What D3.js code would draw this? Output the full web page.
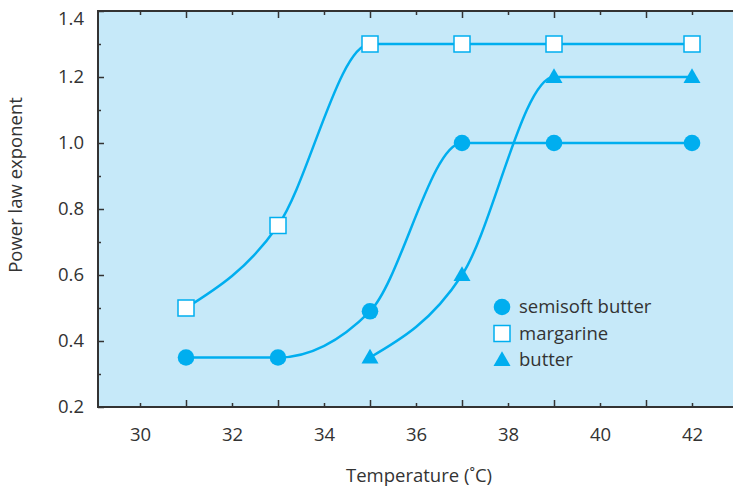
<!DOCTYPE html>
<html>
<head>
<meta charset="utf-8">
<script src="https://cdn.jsdelivr.net/npm/d3@7"></script>
<style>
  html, body { margin: 0; padding: 0; background: #ffffff; }
  svg { display: block; }
  text { font-family: "Open Sans", "Lato", sans-serif; fill: #333333; }
</style>
</head>
<body>
<svg id="chart" width="733" height="487"></svg>
<script>
// ---- Data ----
const temperatures = [31, 33, 35, 37, 39, 42];
const semisoftButter = [0.35, 0.35, 0.49, 1.0, 1.0, 1.0];
const margarine = [0.5, 0.75, 1.3, 1.3, 1.3, 1.3];
const butterTemps = [35, 37, 39, 42];
const butter = [0.35, 0.6, 1.2, 1.2];

const xLabelTicks = [30, 32, 34, 36, 38, 40, 42];
const xOddTicks = [31, 33, 35, 37, 39, 41];
const yLabelTicks = [0.2, 0.4, 0.6, 0.8, 1.0, 1.2, 1.4];
const yMinorTicks = [0.3, 0.5, 0.7, 0.9, 1.1, 1.3];

const legendLabels = ["semisoft butter", "margarine", "butter"];

// ---- Layout ----
const plot = { left: 98, right: 733, top: 11, bottom: 407 };
const lineColor = "#00AEEF";
const bgColor = "#C6E9F9";
const axisColor = "#333333";
const fontFamily = "'Open Sans', Lato, sans-serif";
const fontSize = 18.5;

const svg = d3.select("#chart");

// x: 30 -> 140px, 42 -> 692px
const pxPerUnit = (692 - 140) / 12;
const xDomainMin = 30 - (140 - plot.left) / pxPerUnit;
const xDomainMax = 30 + (plot.right - 140) / pxPerUnit;
const x = d3.scaleLinear().domain([xDomainMin, xDomainMax]).range([plot.left, plot.right]);
const y = d3.scaleLinear().domain([0.2, 1.4]).range([plot.bottom, plot.top]);

// background
svg.append("rect")
  .attr("x", plot.left).attr("y", plot.top)
  .attr("width", plot.right - plot.left).attr("height", plot.bottom - plot.top)
  .attr("fill", bgColor);

function styleAxis(g, showText) {
  g.select(".domain").remove();
  g.selectAll(".tick line").attr("stroke", axisColor).attr("stroke-width", 1.5);
  g.selectAll(".tick text").attr("font-size", fontSize).attr("fill", "#333")
    .style("font-family", fontFamily);
  if (!showText) g.selectAll(".tick text").remove();
}

// bottom axis
const bottomMajor = svg.append("g").attr("transform", `translate(0,${plot.bottom})`)
  .call(d3.axisBottom(x).tickValues(xLabelTicks).tickSize(-4).tickPadding(21).tickFormat(d3.format("d")));
styleAxis(bottomMajor, true);
const bottomOdd = svg.append("g").attr("transform", `translate(0,${plot.bottom})`)
  .call(d3.axisBottom(x).tickValues(xOddTicks).tickSize(-7));
styleAxis(bottomOdd, false);

// top axis
const topMajor = svg.append("g").attr("transform", `translate(0,${plot.top})`)
  .call(d3.axisTop(x).tickValues(xLabelTicks).tickSize(-4));
styleAxis(topMajor, false);
const topOdd = svg.append("g").attr("transform", `translate(0,${plot.top})`)
  .call(d3.axisTop(x).tickValues(xOddTicks).tickSize(-7));
styleAxis(topOdd, false);

// left axis
const leftMajor = svg.append("g").attr("transform", `translate(${plot.left},0)`)
  .call(d3.axisLeft(y).tickValues(yLabelTicks).tickSize(-6).tickPadding(14).tickFormat(d3.format(".1f")));
styleAxis(leftMajor, true);
// top label sits a little lower so it stays inside the picture
leftMajor.selectAll(".tick text").filter(d => d === 1.4).attr("dy", "0.75em");
const leftMinor = svg.append("g").attr("transform", `translate(${plot.left},0)`)
  .call(d3.axisLeft(y).tickValues(yMinorTicks).tickSize(-3));
styleAxis(leftMinor, false);

// frame lines
svg.append("path")
  .attr("d", `M${plot.right},${plot.top}H${plot.left}V${plot.bottom}H${plot.right}`)
  .attr("fill", "none").attr("stroke", axisColor).attr("stroke-width", 2);

// lines
const line = d3.line().x(d => x(d[0])).y(d => y(d[1])).curve(d3.curveMonotoneX);
const semiData = temperatures.map((t, i) => [t, semisoftButter[i]]);
const margData = temperatures.map((t, i) => [t, margarine[i]]);
const butData = butterTemps.map((t, i) => [t, butter[i]]);

[semiData, margData, butData].forEach(data => {
  svg.append("path").attr("d", line(data))
    .attr("fill", "none").attr("stroke", lineColor).attr("stroke-width", 2.5);
});

// markers
const squareSize = 16;
const triSym = d3.symbol().type(d3.symbolTriangle).size(125);

function drawCircle(cx, cy) {
  svg.append("circle").attr("cx", cx).attr("cy", cy).attr("r", 8.3).attr("fill", lineColor);
}
function drawSquare(cx, cy) {
  svg.append("rect").attr("x", cx - squareSize / 2).attr("y", cy - squareSize / 2)
    .attr("width", squareSize).attr("height", squareSize)
    .attr("fill", "#ffffff").attr("stroke", lineColor).attr("stroke-width", 1.5);
}
function drawTriangle(cx, cy) {
  svg.append("path").attr("d", triSym()).attr("transform", `translate(${cx},${cy + 1})`)
    .attr("fill", lineColor);
}

semiData.forEach(d => drawCircle(x(d[0]), y(d[1])));
margData.forEach(d => drawSquare(x(d[0]), y(d[1])));
butData.forEach(d => drawTriangle(x(d[0]), y(d[1])));

// legend
const legendX = 502, legendY0 = 307, legendStep = 26.5;
const drawers = [drawCircle, drawSquare, drawTriangle];
legendLabels.forEach((lab, i) => {
  const cy = legendY0 + i * legendStep;
  drawers[i](legendX, cy);
  svg.append("text").attr("x", 519).attr("y", cy).attr("dy", "0.33em")
    .attr("font-size", fontSize).text(lab);
});

// axis titles
svg.append("text").attr("x", 419).attr("y", 482)
  .attr("text-anchor", "middle").attr("font-size", fontSize).text("Temperature (˚C)");
svg.append("text").attr("transform", "translate(22,185) rotate(-90)")
  .attr("text-anchor", "middle").attr("font-size", fontSize).text("Power law exponent");
</script>
</body>
</html>
